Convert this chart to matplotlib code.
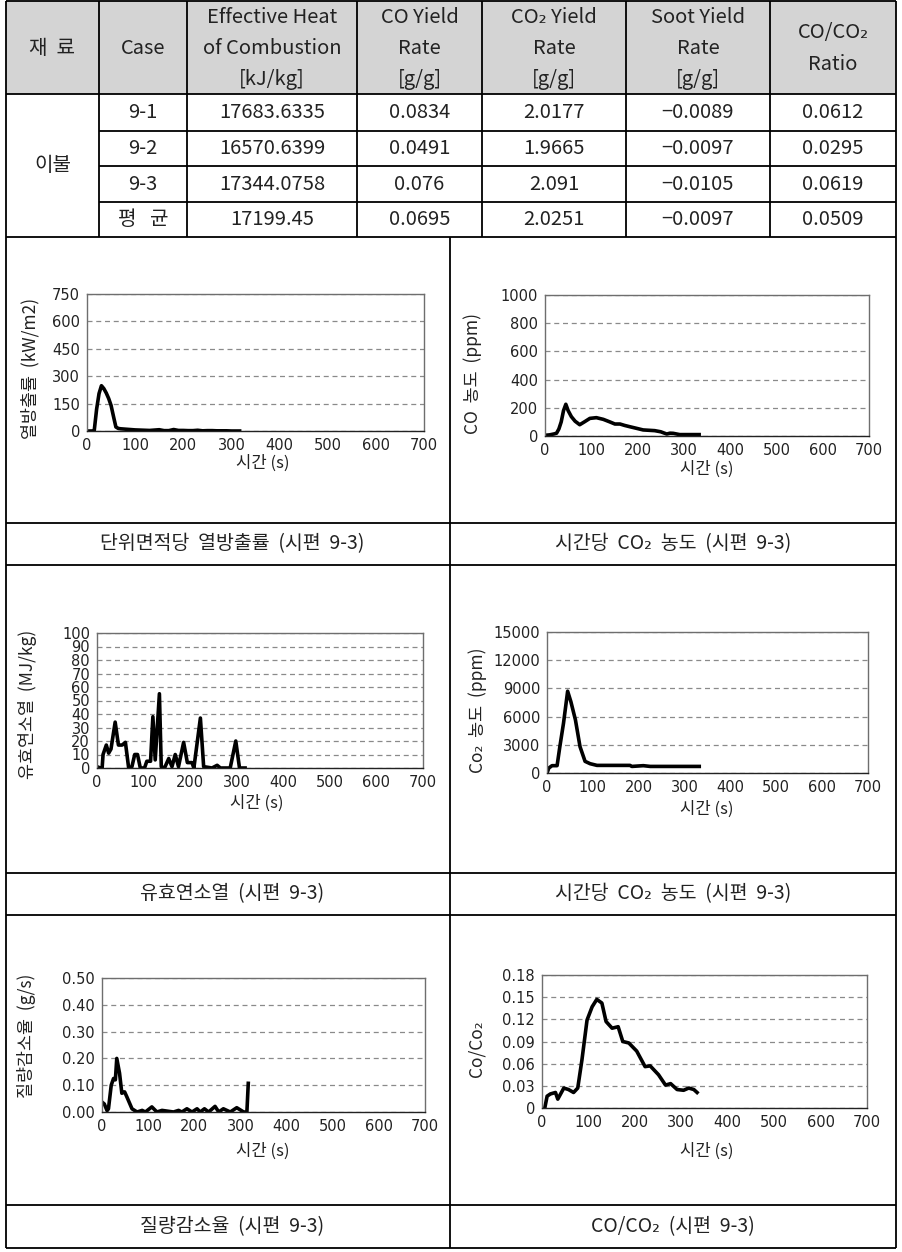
import numpy as np
import matplotlib
matplotlib.use('Agg')
import matplotlib.pyplot as plt
from matplotlib.patches import Rectangle

plt.rcParams['font.family'] = ['Noto Sans CJK KR', 'DejaVu Sans']
NUM_FONT = ['DejaVu Sans', 'Noto Sans CJK KR']

W, H = 903, 1252

# ---- table data ----
header = ['재  료', 'Case', 'Effective Heat\nof Combustion\n[kJ/kg]', 'CO Yield\nRate\n[g/g]',
          'CO₂ Yield\nRate\n[g/g]', 'Soot Yield\nRate\n[g/g]', 'CO/CO₂\nRatio']
material = '이불'
cases = ['9-1', '9-2', '9-3', '평   균']
ehc_vals = ['17683.6335', '16570.6399', '17344.0758', '17199.45']
co_yield = ['0.0834', '0.0491', '0.076', '0.0695']
co2_yield = ['2.0177', '1.9665', '2.091', '2.0251']
soot_yield = ['−0.0089', '−0.0097', '−0.0105', '−0.0097']
ratio_vals = ['0.0612', '0.0295', '0.0619', '0.0509']

# ---- chart data ----
hrr_t = [0, 5, 10, 15, 20, 25, 30, 35, 40, 45, 50, 55, 60, 65, 70, 80, 90, 100, 110, 120,
         130, 140, 150, 160, 170, 180, 190, 200, 210, 220, 230, 240, 250, 260, 270, 280, 290, 300, 310, 317]
hrr_v = [0, 0, 0, 2, 120, 205, 248, 232, 208, 178, 140, 80, 22, 14, 12, 10, 8, 6, 5, 4,
         3, 5, 7, 2, 2, 8, 3, 3, 2, 2, 4, 1, 2, 2, 1, 1, 1, 0, 0, 0]

co_t = [0, 10, 20, 25, 30, 35, 40, 45, 50, 57, 65, 75, 85, 97, 111, 126, 140, 151, 162, 172,
        183, 197, 212, 237, 250, 263, 270, 277, 291, 310, 333]
co_v = [5, 8, 15, 20, 50, 100, 180, 225, 180, 137, 105, 80, 100, 125, 130, 118, 100, 85, 85, 75,
        66, 55, 43, 38, 30, 14, 20, 19, 10, 10, 10]

ehc_t = [0, 7, 11, 13, 20, 25, 30, 39, 46, 54, 61, 68, 75, 81, 87, 93, 102, 107, 115, 120, 125,
         134, 138, 145, 154, 161, 168, 175, 186, 194, 204, 208, 222, 229, 247, 258, 265, 286, 298, 306, 318]
ehc_v = [1, 0, 0, 10, 17, 11, 14, 34, 17, 17, 19, 0, 1, 10, 10, 0, 0, 5, 5, 38, 6,
         55, 1, 0, 7, 1, 10, 1, 19, 4, 4, 0, 37, 1, 0, 2, 0, 0, 20, 0, 0]

co2_t = [0, 4, 11, 22, 28, 36, 45, 52, 62, 72, 83, 94, 109, 181, 185, 210, 225, 332]
co2_v = [0, 530, 780, 780, 2800, 5300, 8700, 7600, 5650, 2800, 1240, 990, 810, 810, 700, 780, 700, 700]

mlr_t = [0, 5, 11, 14, 20, 25, 29, 32, 38, 43, 49, 54, 65, 76, 87, 94, 108, 119, 130, 155, 166,
         173, 184, 195, 206, 213, 222, 231, 245, 253, 263, 278, 292, 307, 314, 317]
mlr_v = [0.037, 0.03, 0.005, 0.012, 0.10, 0.125, 0.12, 0.20, 0.145, 0.07, 0.075, 0.056, 0.012, 0,
         0.006, 0, 0.019, 0, 0.006, 0, 0.006, 0, 0.012, 0, 0.012, 0, 0.012, 0, 0.021, 0, 0.012, 0,
         0.016, 0, 0, 0.107]

ratio_t = [6, 11, 18, 29, 34, 47, 57, 68, 77, 86, 97, 108, 118, 129, 138, 151, 164, 174, 187, 204,
           222, 233, 251, 266, 277, 291, 305, 316, 327, 334]
ratio_v = [0, 0.016, 0.019, 0.021, 0.012, 0.027, 0.025, 0.021, 0.027, 0.065, 0.119, 0.137, 0.147,
           0.142, 0.117, 0.108, 0.110, 0.090, 0.088, 0.077, 0.056, 0.057, 0.045, 0.031, 0.033, 0.025,
           0.024, 0.027, 0.025, 0.021]

ylabels = ['열방출률  (kW/m2)', 'CO  농도  (ppm)', '유효연소열  (MJ/kg)',
           'Co₂  농도  (ppm)', '질량감소율  (g/s)', 'Co/Co₂']
captions = ['단위면적당  열방출률  (시편  9-3)', '시간당  CO₂  농도  (시편  9-3)',
            '유효연소열  (시편  9-3)', '시간당  CO₂  농도  (시편  9-3)',
            '질량감소율  (시편  9-3)', 'CO/CO₂  (시편  9-3)']

fig = plt.figure(figsize=(W / 100, H / 100), dpi=100)
bg = fig.add_axes([0, 0, 1, 1])
bg.set_xlim(0, W)
bg.set_ylim(H, 0)
bg.axis('off')

LW = 1.3


def hline(y, x0, x1):
    bg.plot([x0, x1], [y, y], color='black', lw=LW, solid_capstyle='butt')


def vline(x, y0, y1):
    bg.plot([x, x], [y0, y1], color='black', lw=LW, solid_capstyle='butt')


# table grid
cols = [6, 99, 187, 357, 482, 626, 770, 896]
rows = [1, 94, 131, 166, 202, 237]
bg.add_patch(Rectangle((cols[0], rows[0]), cols[-1] - cols[0], rows[1] - rows[0],
                       facecolor='#d4d4d4', edgecolor='none'))
hline(rows[0], cols[0], cols[-1])
hline(rows[1], cols[0], cols[-1])
for y in rows[2:5]:
    hline(y, cols[1], cols[-1])
hline(rows[-1], cols[0], cols[-1])
for x in cols:
    vline(x, rows[0], rows[-1])

TFS = 14.5
for i, txt in enumerate(header):
    xc = (cols[i] + cols[i + 1]) / 2
    bg.text(xc, (rows[0] + rows[1]) / 2 + 1, txt, ha='center', va='center',
            fontsize=TFS, linespacing=1.65 if '\n' in txt else 1.2, color='#222222')
bg.text((cols[0] + cols[1]) / 2, (rows[1] + rows[-1]) / 2, material,
        ha='center', va='center', fontsize=TFS, color='#222222')
columns = [cases, ehc_vals, co_yield, co2_yield, soot_yield, ratio_vals]
for j, colvals in enumerate(columns):
    xc = (cols[j + 1] + cols[j + 2]) / 2
    for r, v in enumerate(colvals):
        yc = (rows[r + 1] + rows[r + 2]) / 2
        bg.text(xc, yc, v, ha='center', va='center', fontsize=TFS, color='#222222')

# chart grid
grid_rows = [523, 565, 873, 915, 1205, 1248]
for y in grid_rows:
    hline(y, cols[0], cols[-1])
for x in [cols[0], 450, cols[-1]]:
    vline(x, rows[-1], grid_rows[-1])

# captions
cap_y = [544, 894, 1227]
cap_x = [232, 673]
for k, cap in enumerate(captions):
    bg.text(cap_x[k % 2], cap_y[k // 2], cap, ha='center', va='center',
            fontsize=14, color='#222222')


def px_axes(l, t, r, b):
    return fig.add_axes([l / W, 1 - b / H, (r - l) / W, (b - t) / H])


boxes = [(87, 294, 424, 431), (545, 295, 869, 436),
         (97, 633, 423, 768), (547, 632, 868, 773),
         (102, 978, 425, 1112), (542, 975, 867, 1108)]
series = [(hrr_t, hrr_v), (co_t, co_v), (ehc_t, ehc_v),
          (co2_t, co2_v), (mlr_t, mlr_v), (ratio_t, ratio_v)]
yticks = [np.arange(0, 751, 150), np.arange(0, 1001, 200), np.arange(0, 101, 10),
          np.arange(0, 15001, 3000), np.arange(0, 0.501, 0.1), np.arange(0, 0.181, 0.03)]
ytlabels = [[str(int(v)) for v in yticks[0]], [str(int(v)) for v in yticks[1]],
            [str(int(v)) for v in yticks[2]], [str(int(v)) for v in yticks[3]],
            ['%.2f' % v for v in yticks[4]],
            ['0'] + ['%.2f' % v for v in yticks[5][1:]]]
ylab_pos = [(30, 368), (473, 374), (28, 704), (478, 710), (27, 1036), (477, 1049)]
xlab_pos = [(263, 463), (707, 469), (257, 803), (707, 809), (263, 1151), (707, 1151)]

for k, (box, (t, v)) in enumerate(zip(boxes, series)):
    ax = px_axes(*box)
    ax.plot(t, v, color='black', lw=2.6, solid_joinstyle='round')
    ax.set_xlim(0, 700)
    ax.set_xticks(range(0, 701, 100))
    ax.set_ylim(yticks[k][0], yticks[k][-1])
    ax.set_yticks(yticks[k])
    ax.set_yticklabels(ytlabels[k])
    ax.yaxis.grid(True, ls=(0, (4, 3)), color='#8a8a8a', lw=0.9)
    ax.set_axisbelow(True)
    ax.tick_params(length=0, labelsize=10.5, pad=5, colors='#222222')
    for lab in ax.get_xticklabels() + ax.get_yticklabels():
        lab.set_family(NUM_FONT)
    for s in ax.spines.values():
        s.set_color('#6e6e6e')
        s.set_linewidth(1.0)
    ax.spines['bottom'].set_color('#222222')
    bg.text(ylab_pos[k][0], ylab_pos[k][1], ylabels[k], rotation=90, ha='center', va='center',
            fontsize=12.5, color='#222222')
    bg.text(xlab_pos[k][0], xlab_pos[k][1], '시간 (s)', ha='center', va='center',
            fontsize=12, color='#222222')

fig.savefig('out.png', dpi=100)
